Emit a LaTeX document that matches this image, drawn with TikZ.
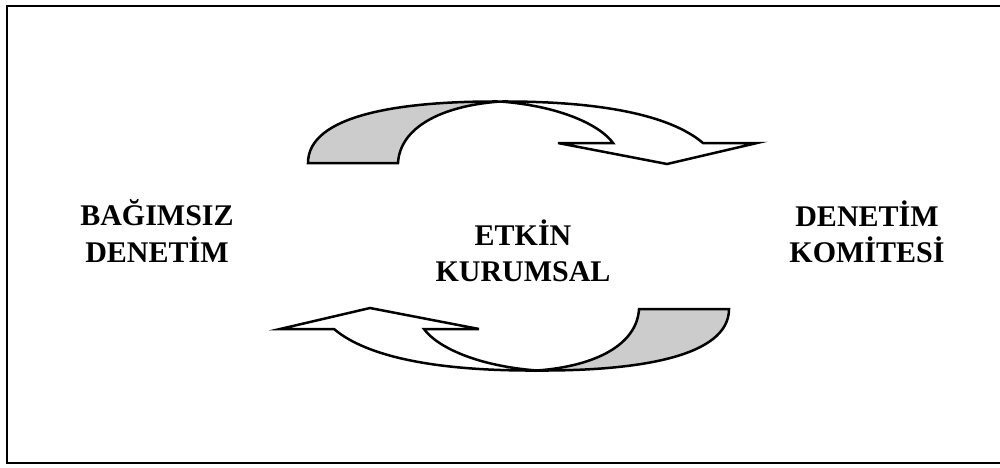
\documentclass[tikz,border=0pt]{standalone}
\usepackage{fontspec}
\setmainfont{Liberation Serif}
\definecolor{backgray}{HTML}{CCCCCC}
\begin{document}
\begin{tikzpicture}[x=1pt,y=-1pt,
  band/.style={draw=black,line width=2.5pt,line join=miter},
  label/.style={align=center,font=\fontsize{30}{36.5}\selectfont\bfseries,inner sep=0pt}]
\useasboundingbox (0,0) rectangle (1000,467);
\node[draw=black,line width=2.2pt,minimum width=1000pt,minimum height=457pt,inner sep=0pt] (frame) at (507,234.5) {};
% top curved arrow
\begin{scope}
  \coordinate (tA) at (308,163);
  \coordinate (tB) at (398,163);
  \coordinate (tC) at (500,101.5);
  \fill[backgray] (tA) .. controls (308,115) and (400,101) .. (tC)
     .. controls (440,106) and (400,128) .. (tB) -- cycle;
  \draw[band] (tA) .. controls (308,115) and (400,101) .. (tC)
     .. controls (440,106) and (400,128) .. (tB) -- cycle;
  \draw[band,fill=white] (tC) .. controls (600,101) and (670,115) .. (703,143)
     -- (757,143) -- (667,164) -- (558,143) -- (613,143)
     .. controls (600,125) and (560,106) .. (tC) -- cycle;
\end{scope}
% bottom curved arrow (point symmetric)
\begin{scope}[rotate around={180:(518.5,236)}]
  \coordinate (bA) at (308,163);
  \coordinate (bB) at (398,163);
  \coordinate (bC) at (500,101.5);
  \fill[backgray] (bA) .. controls (308,115) and (400,101) .. (bC)
     .. controls (440,106) and (400,128) .. (bB) -- cycle;
  \draw[band] (bA) .. controls (308,115) and (400,101) .. (bC)
     .. controls (440,106) and (400,128) .. (bB) -- cycle;
  \draw[band,fill=white] (bC) .. controls (600,101) and (670,115) .. (703,143)
     -- (757,143) -- (667,164) -- (558,143) -- (613,143)
     .. controls (600,125) and (560,106) .. (bC) -- cycle;
\end{scope}
\node[label] (left) at (157,231) {BAĞIMSIZ\\DENETİM};
\node[label] (center) at (523,251) {ETKİN\\KURUMSAL};
\node[label] (right) at (867,232) {DENETİM\\KOMİTESİ};
\end{tikzpicture}
\end{document}
